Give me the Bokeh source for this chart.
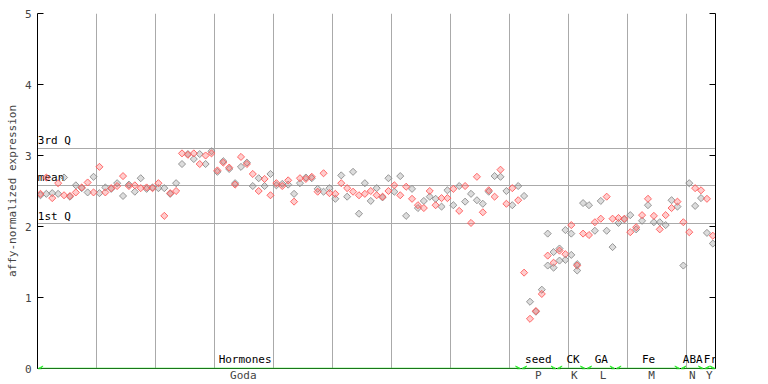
from bokeh.plotting import figure
from bokeh.models import Range1d, LinearAxis, FixedTicker, Arrow, VeeHead
from bokeh.core.properties import value
from bokeh.embed import file_html
from bokeh.resources import INLINE

# ---- data ----
# replicate values per sample position (0..114)
rep_red = [2.46, 2.69, 2.40, 2.61, 2.44, 2.43, 2.48, 2.55, 2.62, 2.48,
           2.84, 2.48, 2.54, 2.57, 2.71, 2.57, 2.58, 2.54, 2.55, 2.54,
           2.61, 2.15, 2.47, 2.50, 3.03, 3.01, 3.03, 2.88, 3.00, 3.03,
           2.79, 2.90, 2.83, 2.59, 2.98, 2.88, 2.74, 2.50, 2.67, 2.44,
           2.61, 2.57, 2.65, 2.35, 2.68, 2.67, 2.70, 2.49, 2.75, 2.47,
           2.46, 2.61, 2.54, 2.49, 2.44, 2.46, 2.50, 2.44, 2.42, 2.50,
           2.58, 2.44, 2.56, 2.39, 2.30, 2.26, 2.50, 2.30, 2.40, 2.40,
           2.53, 2.22, 2.57, 2.05, 2.70, 2.20, 2.51, 2.42, 2.80, 2.32,
           2.54, 2.37, 1.35, 0.70, 0.81, 1.05, 1.59, 1.49, 1.66, 1.61,
           2.02, 1.45, 1.90, 1.88, 2.06, 2.11, 2.42, 2.11, 2.12, 2.11,
           1.92, 1.99, 2.16, 2.39, 2.15, 1.96, 2.16, 2.26, 2.35, 2.06,
           1.92, 2.54, 2.51, 2.39, 1.87]
rep_gray = [2.44, 2.46, 2.47, 2.46, 2.69, 2.42, 2.58, 2.54, 2.48, 2.70,
            2.47, 2.55, 2.53, 2.61, 2.43, 2.59, 2.49, 2.68, 2.53, 2.55,
            2.54, 2.54, 2.46, 2.61, 2.88, 3.02, 2.95, 3.02, 2.88, 3.06,
            2.77, 2.92, 2.81, 2.61, 2.84, 2.90, 2.57, 2.68, 2.57, 2.74,
            2.58, 2.60, 2.59, 2.46, 2.61, 2.69, 2.68, 2.53, 2.49, 2.54,
            2.39, 2.72, 2.42, 2.77, 2.18, 2.61, 2.36, 2.54, 2.41, 2.68,
            2.49, 2.71, 2.15, 2.53, 2.26, 2.36, 2.42, 2.39, 2.28, 2.51,
            2.30, 2.57, 2.35, 2.46, 2.37, 2.32, 2.49, 2.71, 2.70, 2.50,
            2.30, 2.57, 2.43, 0.94, 0.80, 1.11, 1.90, 1.64, 1.69, 1.95,
            1.90, 1.47, 2.33, 2.30, 1.94, 2.36, 1.94, 1.71, 2.05, 2.10,
            2.16, 1.96, 2.08, 2.30, 2.06, 2.06, 2.02, 2.37, 2.28, 1.45,
            2.61, 2.29, 2.40, 1.91, 1.76]
extra_pos = [86, 87, 88, 89, 90, 91]
extra_val = [1.45, 1.42, 1.52, 1.53, 1.60, 1.38]

q3, mean_v, q1 = 3.10, 2.58, 2.04
y_ticks = [0, 1, 2, 3, 4, 5]

groups = ["Hormones", "seed", "CK", "GA", "Fe", "ABA", "Fr"]
group_start = [0, 82, 88, 93, 98, 109, 113]
group_end = [81, 87, 92, 97, 108, 112, 114]
group_label_pos = [34.7, 84.4, 90.3, 95.1, 103.1, 110.6, 113.6]
sub_labels = ["Goda", "P", "K", "L", "M", "N", "Y"]
sub_label_pos = [34.4, 84.4, 90.5, 95.4, 103.6, 110.5, 113.4]

n = len(rep_red)
pos = list(range(n))

MONO = "DejaVu Sans Mono"
FS = "11px"
RED = "#ff5a5a"
GRAY = "#8c8c8c"
GREEN = "#33ee33"

p = figure(width=768, height=384, output_backend="svg", toolbar_location=None,
           x_range=Range1d(-0.5, 114.45), y_range=Range1d(0, 5),
           min_border_left=37, min_border_top=13, min_border_right=53, min_border_bottom=15)
p.outline_line_color = None
p.background_fill_color = "white"

# grids
p.xgrid.ticker = FixedTicker(ticks=[9.5 + 10 * k for k in range(11)])
p.xgrid.grid_line_color = "#aaaaaa"
p.ygrid.ticker = FixedTicker(ticks=[q1, mean_v, q3])
p.ygrid.grid_line_color = "#aaaaaa"

# y axis
p.yaxis.ticker = FixedTicker(ticks=y_ticks)
p.yaxis.minor_tick_line_color = None
p.yaxis.major_tick_in = 6
p.yaxis.major_tick_out = 0
p.yaxis.major_label_standoff = 6
p.yaxis.axis_label = "affy-normalized expression"
p.yaxis.axis_label_text_font = MONO
p.yaxis.axis_label_text_font_style = "normal"
p.yaxis.axis_label_text_font_size = FS
p.yaxis.axis_label_standoff = 3
p.yaxis.major_label_text_font = MONO
p.yaxis.major_label_text_font_size = FS
p.yaxis.axis_line_color = "black"

right = LinearAxis(ticker=FixedTicker(ticks=y_ticks), major_tick_in=6, major_tick_out=0,
                   minor_tick_line_color=None, major_label_standoff=0,
                   major_label_overrides={t: "" for t in y_ticks})
p.add_layout(right, "right")

# x axis with sub-labels
p.xaxis.ticker = FixedTicker(ticks=sub_label_pos)
p.xaxis.major_label_overrides = {v: s for v, s in zip(sub_label_pos, sub_labels)}
p.xaxis.major_tick_line_color = None
p.xaxis.major_tick_in = 0
p.xaxis.major_tick_out = 0
p.xaxis.minor_tick_line_color = None
p.xaxis.major_label_standoff = 0
p.xaxis.major_label_text_font = MONO
p.xaxis.major_label_text_font_size = FS
p.xaxis.axis_line_color = "black"

# quartile labels
p.text(x=[-0.45, -0.45, -0.45], y=[q3, mean_v, q1], text=["3rd Q", "mean", "1st Q"],
       text_font=value(MONO), text_font_size=FS, text_baseline="bottom",
       text_color="black", y_offset=-1)

# points
def draw(xs, ys, color):
    p.scatter(x=xs, y=ys, marker="square", angle=0.7854, size=5,
              fill_color=color, fill_alpha=0.3, line_color=color, line_alpha=0.9, line_width=1)

draw(pos, rep_gray, GRAY)
draw(pos, rep_red, RED)
draw(extra_pos, extra_val, GRAY)

# group arrows
for s, e in zip(group_start, group_end):
    p.add_layout(Arrow(x_start=s - 0.4, y_start=0, x_end=e + 0.4, y_end=0,
                       line_color=GREEN, line_width=1.5,
                       start=VeeHead(size=5, line_color=GREEN, fill_color=GREEN, line_width=1),
                       end=VeeHead(size=5, line_color=GREEN, fill_color=GREEN, line_width=1)))

p.text(x=group_label_pos, y=[0] * len(groups), text=groups, text_font=value(MONO),
       text_font_size=FS, text_align="center", text_baseline="bottom",
       text_color="black", y_offset=-3)

open("out.html", "w").write(file_html(p, INLINE))
